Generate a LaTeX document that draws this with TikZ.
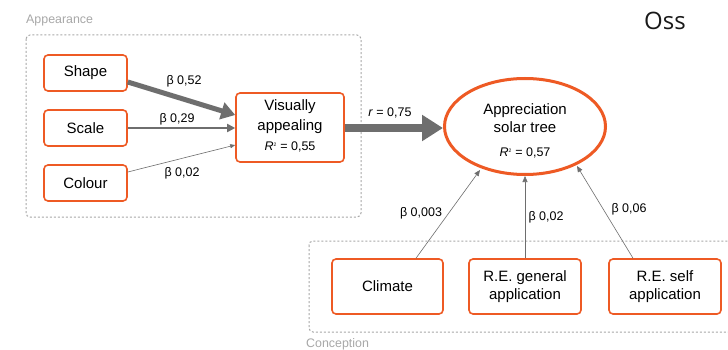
\documentclass[tikz,border=0pt]{standalone}
\usepackage{fontspec}
\setmainfont{Liberation Sans}
\newfontfamily\ossfont{Open Sans}
\usetikzlibrary{arrows.meta,shapes.geometric}
\definecolor{org}{HTML}{EE5A24}
\definecolor{arr}{HTML}{6E6E6E}
\definecolor{dash}{HTML}{A8A8A8}
\begin{document}
\begin{tikzpicture}[x=1pt,y=-1pt,
  box/.style={draw=org,line width=1.6pt,rounded corners=4pt,inner sep=0pt,align=center,font=\fontsize{15}{18}\selectfont},
  grp/.style={draw=dash,line width=1pt,dash pattern=on 2pt off 2pt,rounded corners=4pt},
  grplbl/.style={text=dash,font=\fontsize{12.4}{13}\selectfont,anchor=west,inner sep=0pt},
  lbl/.style={font=\fontsize{12.5}{13}\selectfont,inner sep=0pt},
  conn/.style={draw=arr,-{Triangle[length=6pt,width=5pt]}}]
\clip (0,0) rectangle (728,350);
\fill[white] (0,0) rectangle (728,350);
% groups
\draw[grp] (26,35) rectangle (361,217);
\node[grplbl] (lapp) at (26,21) {Appearance};
\draw[grp] (309,241) rectangle (740,332);
\node[grplbl] (lcon) at (306,344) {Conception};
% title
\node[inner sep=0pt,font=\ossfont\fontsize{24}{26}\selectfont,text=black!90] (oss) at (665,21) {Oss};
% left boxes
\node[box,minimum width=83pt,minimum height=36pt] (shape) at (85.5,73) {Shape};
\node[box,minimum width=83pt,minimum height=36pt] (scale) at (85.5,128) {Scale};
\node[box,minimum width=83pt,minimum height=36pt] (colour) at (85.5,183) {Colour};
\node[box,minimum width=108pt,minimum height=69pt] (va) at (290,127.5) {};
\node[inner sep=0pt,align=center,font=\fontsize{15}{20}\selectfont] (vat) at (290,117) {Visually\\appealing};
\node[lbl] (var) at (290,147) {\textit{R}\textsuperscript{\tiny 2} = 0,55};
% ellipse
\node[draw=org,line width=3pt,ellipse,minimum width=161pt,minimum height=96pt,inner sep=0pt] (app) at (525,126.5) {};
\node[inner sep=0pt,align=center,font=\fontsize{15}{18}\selectfont] (appt) at (525,118) {Appreciation\\solar tree};
\node[lbl] (appr) at (525,153) {\textit{R}\textsuperscript{\tiny 2} = 0,57};
% bottom boxes
\node[box,minimum width=111pt,minimum height=55pt] (clim) at (387.5,286.5) {Climate};
\node[box,minimum width=112pt,minimum height=55pt] (gen) at (525,286.5) {R.E. general\\application};
\node[box,minimum width=112pt,minimum height=55pt] (self) at (665,286.5) {R.E. self\\application};
% arrow end points on the ellipse
\coordinate (ca) at (480,170);
\coordinate (sa) at (577,166);
% arrows
\draw[draw=arr,line width=5pt,-{Triangle[length=14pt,width=17pt]}] (shape.east|-0,82) -- (va.west|-0,115);
\draw[draw=arr,line width=1.8pt,-{Triangle[length=8pt,width=8pt]}] (scale.east) -- (va.west|-scale.east);
\draw[draw=arr,line width=0.6pt,-{Triangle[length=5pt,width=4pt]}] (colour.east|-0,172) -- (va.west|-0,145);
\draw[draw=arr,line width=8pt,-{Triangle[length=21pt,width=25pt]}] (va.east|-0,128) -- (app.west|-0,128);
\draw[conn,line width=0.6pt] (clim.north-|416,0) -- (ca);
\draw[conn,line width=0.6pt] (gen.north) -- (app.south);
\draw[conn,line width=0.6pt] (self.north-|633,0) -- (sa);
% labels
\node[lbl] (l1) at (184,81) {β 0,52};
\node[lbl] (l2) at (177,119) {β 0,29};
\node[lbl] (l3) at (182,173) {β 0,02};
\node[lbl] (l4) at (390,113) {\textit{r} = 0,75};
\node[lbl] (l5) at (421,213) {β 0,003};
\node[lbl] (l6) at (546,217) {β 0,02};
\node[lbl] (l7) at (629,209) {β 0,06};
\end{tikzpicture}
\end{document}
